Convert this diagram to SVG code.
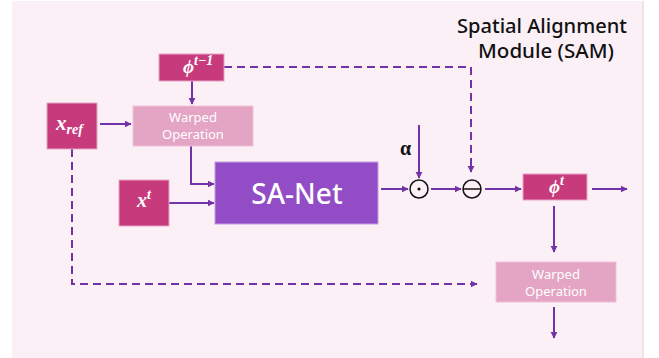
<svg xmlns="http://www.w3.org/2000/svg" width="659" height="358" viewBox="0 0 659 358">
<defs>
<marker id="ah" viewBox="0 0 10 10" refX="9" refY="5" markerWidth="3.6" markerHeight="3.6" orient="auto" markerUnits="strokeWidth">
<path d="M0,0 L10,5 L0,10 z" fill="#7232a8"/>
</marker>
<style>
.ln{fill:none;stroke:#7232a8;stroke-width:2}
.dash{stroke-dasharray:8 5}
.mag{fill:#c73b7c;stroke:#e7a3c6;stroke-width:1}
.wrp{fill:#e4a4c4;stroke:#efc2da;stroke-width:1}
.net{fill:#924cc6;stroke:#c59be0;stroke-width:1}
.wt{font-family:"Noto Sans","Liberation Sans",sans-serif;fill:#ffffff;text-anchor:middle}
.math{font-family:"Liberation Serif","DejaVu Serif",serif;font-style:italic;font-weight:bold;fill:#ffffff}
.op{fill:none;stroke:#111111;stroke-width:1.5}
.title{font-family:"Noto Sans","Liberation Sans",sans-serif;font-size:19px;font-weight:500;fill:#111111}
</style>
</defs>
<rect x="12" y="1" width="631" height="357" fill="#fbf0f6"/>
<line x1="643" y1="1" x2="643" y2="358" stroke="#d8d0d6" stroke-width="1"/>
<text class="title" x="457" y="33" textLength="170" lengthAdjust="spacingAndGlyphs">Spatial Alignment</text>
<text class="title" x="478" y="58" textLength="136" lengthAdjust="spacingAndGlyphs">Module (SAM)</text>

<g id="connectors">
<path class="ln dash" d="M224,67 H471 V172" marker-end="url(#ah)"/>
<path class="ln dash" d="M72,149 V284 H477" marker-end="url(#ah)"/>
<path class="ln" d="M192,81 V104" marker-end="url(#ah)"/>
<path class="ln" d="M100,124 H131" marker-end="url(#ah)"/>
<path class="ln" d="M191,146 V184 H214" marker-end="url(#ah)"/>
<path class="ln" d="M169,203 H214" marker-end="url(#ah)"/>
<path class="ln" d="M381,189 H408" marker-end="url(#ah)"/>
<path class="ln" d="M419,125 V178" marker-end="url(#ah)"/>
<path class="ln" d="M431,189 H461" marker-end="url(#ah)"/>
<path class="ln" d="M485,189 H521" marker-end="url(#ah)"/>
<path class="ln" d="M592,189 H627" marker-end="url(#ah)"/>
<path class="ln" d="M554,206 V252" marker-end="url(#ah)"/>
<path class="ln" d="M554,307 V338" marker-end="url(#ah)"/>
</g>

<g id="phi_prev">
<rect class="mag" x="159" y="54" width="65" height="27"/>
<text class="math" x="183" y="73" font-size="19">ϕ<tspan font-size="14" dy="-8">t−1</tspan></text>
</g>
<g id="x_ref">
<rect class="mag" x="47" y="103" width="50" height="46"/>
<text class="math" x="56" y="130" font-size="21">x<tspan font-size="14" dy="4">ref</tspan></text>
</g>
<g id="warp1">
<rect class="wrp" x="133" y="106" width="120" height="40"/>
<text class="wt" x="193" y="122" font-size="13">Warped</text>
<text class="wt" x="193" y="139" font-size="13">Operation</text>
</g>
<g id="x_t">
<rect class="mag" x="119" y="180" width="50" height="46"/>
<text class="math" x="137" y="207" font-size="20">x<tspan font-size="14" dy="-8">t</tspan></text>
</g>
<g id="sanet">
<rect class="net" x="215" y="162" width="163" height="62"/>
<text class="wt" x="297" y="204" font-size="28" font-weight="500">SA-Net</text>
</g>
<g id="alpha">
<text x="400" y="155" font-family="Liberation Serif, DejaVu Serif, serif" font-weight="bold" font-size="20" fill="#111111">α</text>
</g>
<g id="odot">
<circle class="op" cx="419" cy="189" r="9"/>
<circle cx="419" cy="189" r="1.6" fill="#111111"/>
</g>
<g id="ominus">
<circle class="op" cx="472" cy="189" r="9"/>
<line class="op" x1="463" y1="189" x2="481" y2="189"/>
</g>
<g id="phi_t">
<rect class="mag" x="523" y="174" width="64" height="26"/>
<text class="math" x="549" y="193" font-size="19">ϕ<tspan font-size="14" dy="-8">t</tspan></text>
</g>
<g id="warp2">
<rect class="wrp" x="496" y="262" width="120" height="40"/>
<text class="wt" x="556" y="279" font-size="13">Warped</text>
<text class="wt" x="556" y="296" font-size="13">Operation</text>
</g>
</svg>
